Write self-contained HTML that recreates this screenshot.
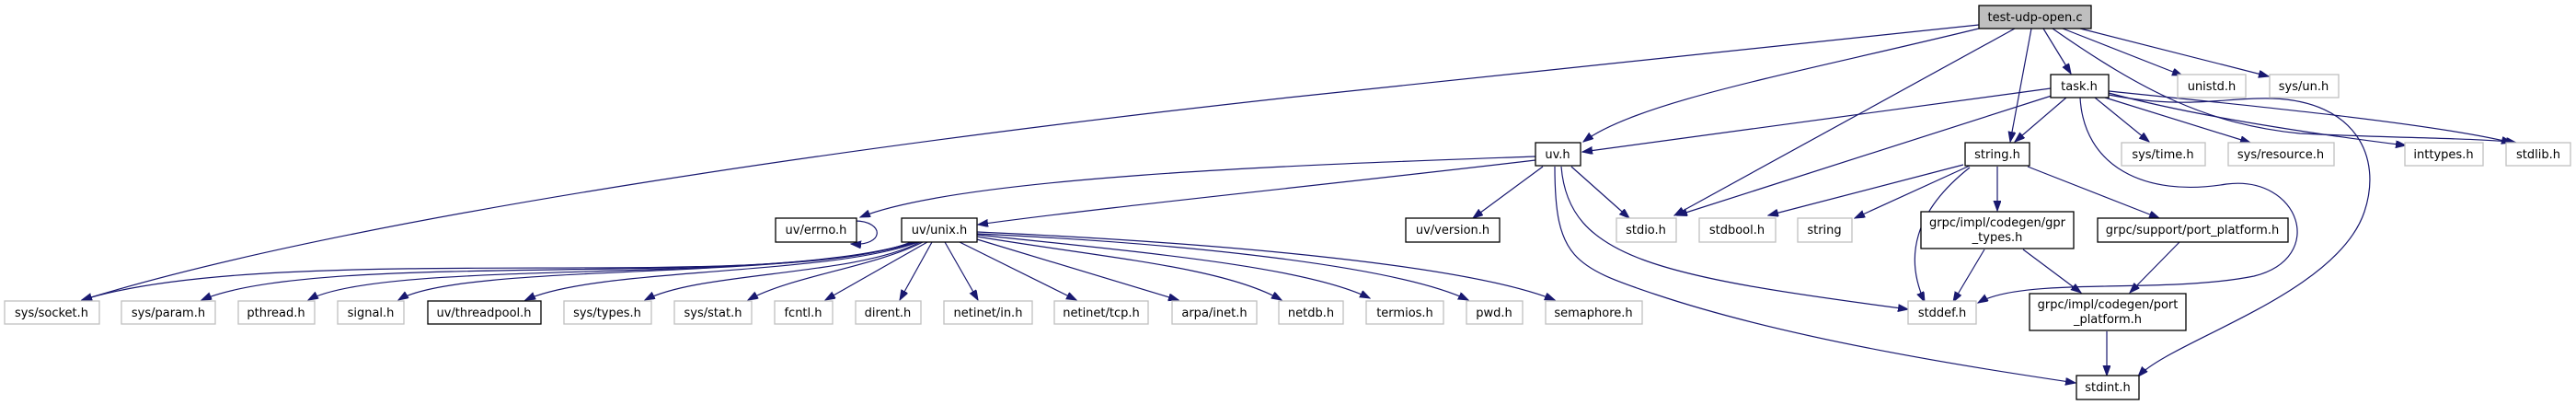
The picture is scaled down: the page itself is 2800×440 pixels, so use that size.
<!DOCTYPE html>
<html><head><meta charset="utf-8"><style>
html,body{margin:0;padding:0;background:#fff;}
svg{display:block;}
text{font-family:"DejaVu Sans","Liberation Sans",sans-serif;font-size:13px;fill:#000;text-anchor:middle;}
.g{fill:#fff;stroke:#bfbfbf;stroke-width:1.3}
.b{fill:#fff;stroke:#000;stroke-width:1.3}
.e{fill:none;stroke:#191970;stroke-width:1.2;marker-end:url(#a)}
</style></head><body>
<svg width="2800" height="440" viewBox="0 0 2800 440" xmlns="http://www.w3.org/2000/svg">
<defs><marker id="a" markerUnits="userSpaceOnUse" markerWidth="12" markerHeight="10" refX="11" refY="4" orient="auto"><path d="M0,0 L11,4 L0,8 z" fill="#191970" stroke="#191970"/></marker></defs>
<!-- edges -->
<path class="e" d="M2151,27 L1400,106 C1000,150 400,230 89,326"/>
<path class="e" d="M2151,31 C1950,80 1780,110 1721,154"/>
<path class="e" d="M2190,31 L1820,234"/>
<path class="e" d="M2208,31 L2185,154"/>
<path class="e" d="M2221,31 L2251,80"/>
<path class="e" d="M2242,31 L2372,82"/>
<path class="e" d="M2261,31 L2466,83"/>
<path class="e" d="M2231,31 C2330,100 2400,135 2500,145 C2600,150 2700,150 2735,155"/>
<path class="e" d="M2229,96 L1720,165"/>
<path class="e" d="M2230,104 L1823,234"/>
<path class="e" d="M2246,106 L2190,154"/>
<path class="e" d="M2277,106 L2336,154"/>
<path class="e" d="M2288,106 L2446,155"/>
<path class="e" d="M2292,101 C2400,130 2550,150 2615,158"/>
<path class="e" d="M2292,99 C2450,115 2650,135 2730,155"/>
<path class="e" d="M2292,103 C2380,120 2420,105 2470,107 C2560,110 2590,170 2570,230 C2540,320 2360,370 2324,409"/>
<path class="e" d="M2261,106 C2265,180 2330,215 2420,200 C2500,190 2530,280 2450,300 C2350,320 2200,300 2150,329"/>
<path class="e" d="M1669,170 C1450,178 1050,190 935,236"/>
<path class="e" d="M1669,174 C1450,200 1200,225 1063,244"/>
<path class="e" d="M1677,181 L1601,237"/>
<path class="e" d="M1708,181 L1771,237"/>
<path class="e" d="M1697,181 C1705,280 1800,300 2074,336"/>
<path class="e" d="M1690,181 C1690,280 1710,290 1800,320 C1950,370 2150,400 2256,416"/>
<path class="e" d="M929,240 C962,240 962,268 925,265"/>
<path class="e" d="M990,263 C850,320 300,260 89,326"/>
<path class="e" d="M992,263 C850,315 350,270 219,326"/>
<path class="e" d="M994,263 C850,310 420,280 335,326"/>
<path class="e" d="M996,263 C870,305 500,285 433,326"/>
<path class="e" d="M998,263 C900,300 650,290 571,326"/>
<path class="e" d="M1000,263 C930,300 760,295 701,326"/>
<path class="e" d="M1003,263 C950,290 860,300 813,326"/>
<path class="e" d="M1008,263 L897,326"/>
<path class="e" d="M1013,263 L978,326"/>
<path class="e" d="M1027,263 L1063,326"/>
<path class="e" d="M1043,263 L1170,326"/>
<path class="e" d="M1062,260 L1281,326"/>
<path class="e" d="M1062,257 C1200,280 1330,290 1393,326"/>
<path class="e" d="M1062,255 C1250,275 1420,290 1489,324"/>
<path class="e" d="M1062,254 C1300,265 1520,290 1596,326"/>
<path class="e" d="M1062,252 C1350,265 1600,290 1690,326"/>
<path class="e" d="M2134,179 L1922,234"/>
<path class="e" d="M2141,180 L2016,237"/>
<path class="e" d="M2141,182 C2080,230 2070,280 2092,328"/>
<path class="e" d="M2171,181 L2171,229"/>
<path class="e" d="M2204,181 L2347,237"/>
<path class="e" d="M2157,271 L2123,328"/>
<path class="e" d="M2199,271 L2262,318"/>
<path class="e" d="M2369,263 L2315,318"/>
<path class="e" d="M2290,360 L2290,408"/>
<!-- nodes -->
<rect x="2151" y="6" width="122" height="25" fill="#bfbfbf" stroke="#000" stroke-width="1.3"/><text x="2212" y="23">test-udp-open.c</text>
<rect class="b" x="2229" y="81" width="63" height="25"/><text x="2260" y="98">task.h</text>
<rect class="g" x="2367" y="81" width="74" height="25"/><text x="2404" y="98">unistd.h</text>
<rect class="g" x="2467" y="81" width="75" height="25"/><text x="2504" y="98">sys/un.h</text>
<rect class="b" x="1669" y="155" width="49" height="25"/><text x="1693" y="172">uv.h</text>
<rect class="b" x="2136" y="155" width="70" height="25"/><text x="2171" y="172">string.h</text>
<rect class="g" x="2306" y="155" width="91" height="25"/><text x="2351" y="172">sys/time.h</text>
<rect class="g" x="2422" y="155" width="115" height="25"/><text x="2479" y="172">sys/resource.h</text>
<rect class="g" x="2614" y="155" width="85" height="25"/><text x="2656" y="172">inttypes.h</text>
<rect class="g" x="2724" y="155" width="70" height="25"/><text x="2759" y="172">stdlib.h</text>
<rect class="b" x="843" y="237" width="88" height="26"/><text x="887" y="254">uv/errno.h</text>
<rect class="b" x="980" y="237" width="82" height="26"/><text x="1021" y="254">uv/unix.h</text>
<rect class="b" x="1528" y="237" width="102" height="26"/><text x="1579" y="254">uv/version.h</text>
<rect class="g" x="1757" y="237" width="65" height="26"/><text x="1789" y="254">stdio.h</text>
<rect class="g" x="1847" y="237" width="83" height="26"/><text x="1888" y="254">stdbool.h</text>
<rect class="g" x="1954" y="237" width="59" height="26"/><text x="1983" y="254">string</text>
<rect class="b" x="2088" y="230" width="166" height="40"/><text x="2171" y="246">grpc/impl/codegen/gpr</text><text x="2171" y="262">_types.h</text>
<rect class="b" x="2280" y="237" width="207" height="26"/><text x="2383" y="254">grpc/support/port_platform.h</text>
<rect class="g" x="5" y="327" width="103" height="25"/><text x="56" y="344">sys/socket.h</text>
<rect class="g" x="132" y="327" width="102" height="25"/><text x="183" y="344">sys/param.h</text>
<rect class="g" x="259" y="327" width="83" height="25"/><text x="300" y="344">pthread.h</text>
<rect class="g" x="367" y="327" width="72" height="25"/><text x="403" y="344">signal.h</text>
<rect class="b" x="465" y="327" width="123" height="25"/><text x="526" y="344">uv/threadpool.h</text>
<rect class="g" x="613" y="327" width="95" height="25"/><text x="660" y="344">sys/types.h</text>
<rect class="g" x="733" y="327" width="84" height="25"/><text x="775" y="344">sys/stat.h</text>
<rect class="g" x="842" y="327" width="63" height="25"/><text x="873" y="344">fcntl.h</text>
<rect class="g" x="930" y="327" width="71" height="25"/><text x="965" y="344">dirent.h</text>
<rect class="g" x="1026" y="327" width="96" height="25"/><text x="1074" y="344">netinet/in.h</text>
<rect class="g" x="1146" y="327" width="102" height="25"/><text x="1197" y="344">netinet/tcp.h</text>
<rect class="g" x="1274" y="327" width="92" height="25"/><text x="1320" y="344">arpa/inet.h</text>
<rect class="g" x="1390" y="327" width="70" height="25"/><text x="1425" y="344">netdb.h</text>
<rect class="g" x="1485" y="327" width="84" height="25"/><text x="1527" y="344">termios.h</text>
<rect class="g" x="1594" y="327" width="61" height="25"/><text x="1624" y="344">pwd.h</text>
<rect class="g" x="1680" y="327" width="105" height="25"/><text x="1732" y="344">semaphore.h</text>
<rect class="g" x="2074" y="327" width="74" height="25"/><text x="2111" y="344">stddef.h</text>
<rect class="b" x="2206" y="319" width="170" height="40"/><text x="2291" y="335">grpc/impl/codegen/port</text><text x="2291" y="351">_platform.h</text>
<rect class="b" x="2257" y="408" width="68" height="26"/><text x="2291" y="425">stdint.h</text>
</svg>
</body></html>
